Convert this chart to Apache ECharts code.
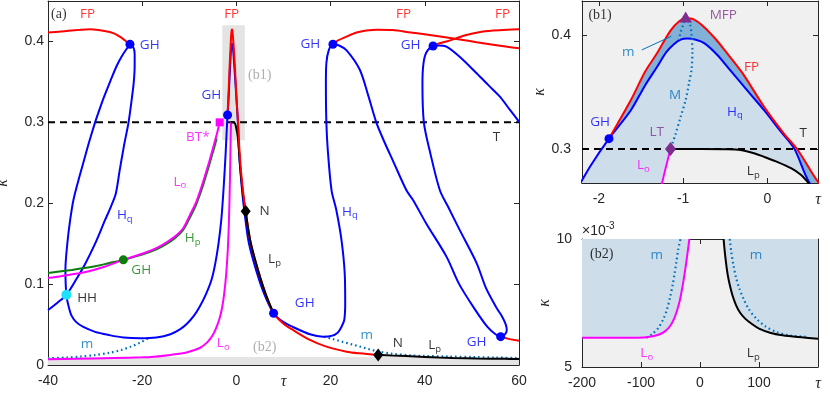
<!DOCTYPE html>
<html><head><meta charset="utf-8">
<script src="https://cdn.jsdelivr.net/npm/echarts@6/dist/echarts.min.js"></script>
<style>html,body{margin:0;padding:0;background:#fff;}#chart{width:830px;height:395px;}</style>
</head><body><div id="chart"></div>
<script>
// ================= DATA (tau, kappa) =================
const tKappa = 0.3;
// main panel (a)
const fpLeft = [[-40,0.411],[-36,0.413],[-33,0.4145],[-31,0.415],[-28,0.413],[-26,0.410],[-24.5,0.405],[-23.4,0.400],[-22.6,0.3965]];
const fpCenter = [[-1.88,0.309],[-1.62,0.343],[-1.45,0.368],[-1.31,0.384],[-1.15,0.404],[-1.05,0.412],[-0.97,0.4148],[-0.88,0.414],[-0.75,0.407],[-0.62,0.397],[-0.51,0.387],[-0.3,0.367],[-0.04,0.337],[0.2,0.313],[0.36,0.299],[0.61,0.27],[1.0,0.238],[1.5,0.21],[1.97,0.19],[3,0.152],[4.6,0.117],[6.2,0.088],[7.9,0.064],[10,0.051],[12,0.0433],[15.6,0.031],[19.1,0.0227],[23.4,0.0165],[26.2,0.0144],[30.1,0.0124]];
const fpRight1 = [[20.5,0.3965],[21.5,0.401],[23.4,0.406],[25.5,0.411],[27.6,0.4135],[30,0.4145],[33.2,0.414],[36.5,0.4115],[40.3,0.4085],[44,0.4055],[47.4,0.4025],[51,0.399],[54.5,0.396],[57.5,0.3935],[60,0.3915]];
const fpRight2 = [[41.75,0.3944],[43,0.3975],[44.6,0.400],[46.5,0.4035],[48.8,0.408],[51.5,0.4115],[54.5,0.4135],[57.5,0.4146],[60,0.415]];
const fpTail = [[56.1,0.035],[58,0.032],[60,0.030]];
const hqLoopB = [[-22.6,0.3965],[-21.9,0.393],[-21.6,0.385],[-21.6,0.37],[-21.8,0.349],[-22.3,0.325],[-22.9,0.300],[-23.9,0.27],[-24.8,0.24],[-25.6,0.212],[-26.7,0.195],[-27.9,0.179],[-30,0.150],[-32.2,0.124],[-34,0.106],[-36.1,0.0868],[-38,0.077],[-40,0.068]];
const hqLong = [[-22.6,0.3965],[-23.4,0.39],[-24.3,0.382],[-25.4,0.370],[-26.7,0.352],[-28,0.333],[-29,0.317],[-30,0.300],[-31.3,0.275],[-32.5,0.25],[-33.6,0.227],[-34.6,0.204],[-35.3,0.179],[-35.9,0.15],[-36.3,0.118],[-36.1,0.0868],[-35.6,0.072],[-35,0.061],[-34,0.053],[-32.5,0.047],[-30,0.041],[-27,0.037],[-24,0.034],[-20.4,0.033],[-17,0.034],[-14,0.038],[-12,0.044],[-10.5,0.051],[-9,0.061],[-7.8,0.072],[-6.5,0.087],[-5.3,0.105],[-4.5,0.125],[-3.8,0.15],[-3.2,0.18],[-2.7,0.22],[-2.3,0.26],[-2.1,0.285],[-1.88,0.309],[-1.62,0.334],[-1.45,0.356],[-1.31,0.372],[-1.2,0.385],[-1.11,0.392],[-1.03,0.396],[-0.95,0.397],[-0.85,0.396],[-0.75,0.393],[-0.6,0.383],[-0.44,0.369],[-0.2,0.348],[-0.04,0.334],[0.15,0.316],[0.32,0.30],[0.5,0.27],[0.85,0.24],[1.3,0.21],[1.7,0.19],[2.6,0.152],[4.2,0.117],[5.9,0.088],[7.9,0.064],[10,0.053],[12,0.047],[15.6,0.038],[18.4,0.035],[20.2,0.036],[21.5,0.040],[22.3,0.047],[22.9,0.0556],[23.1,0.076],[23,0.113],[22.3,0.155],[21.2,0.192],[20.2,0.216],[19.4,0.266],[19.1,0.300],[19.0,0.348],[19.1,0.373],[19.6,0.389],[20.5,0.3965],[21.8,0.395],[23.4,0.389],[26.2,0.365],[28,0.333],[29.7,0.300],[31.4,0.276],[33.2,0.253],[36.1,0.216],[37.5,0.204],[40.3,0.175],[44.6,0.134],[47.3,0.1],[50.5,0.07],[53.3,0.047],[55,0.038],[56.1,0.035],[56.9,0.037],[57.4,0.043],[57.2,0.05],[56.4,0.06],[55.3,0.07],[53,0.095],[51,0.126],[47.4,0.167],[45,0.195],[43.2,0.216],[41,0.266],[39.8,0.300],[39.5,0.348],[39.7,0.372],[40.3,0.386],[41.75,0.3944],[43,0.395],[44.6,0.3935],[47.4,0.381],[51,0.3606],[53.5,0.346],[55.9,0.332],[58,0.316],[60,0.301]];
const hp = [[-40,0.1136],[-35,0.1175],[-30,0.122],[-27,0.126],[-24,0.130],[-20,0.1365],[-17,0.143],[-15,0.149],[-13,0.157],[-11.3,0.167],[-9.9,0.182],[-8.5,0.199],[-7.2,0.220],[-6.2,0.239],[-5.3,0.257],[-4.6,0.271],[-4.2,0.28]];
const loUpper = [[-40,0.1075],[-36,0.111],[-32,0.115],[-28,0.1215],[-24,0.130],[-20,0.1375],[-17,0.1445],[-15,0.151],[-13,0.159],[-11.3,0.169],[-9.9,0.185],[-8.5,0.202],[-7.2,0.224],[-6.2,0.243],[-5.3,0.261],[-4.6,0.276],[-4.0,0.289],[-3.55,0.30]];
const loLower = [[-40,0.0071],[-34,0.0076],[-26,0.0087],[-20,0.0095],[-18,0.0100],[-14,0.0125],[-10.6,0.0155],[-7.8,0.021],[-6.2,0.028],[-5,0.037],[-4.2,0.047],[-3.55,0.058],[-3.0,0.072],[-2.6,0.088],[-2.2,0.11],[-1.85,0.14],[-1.6,0.175],[-1.42,0.216],[-1.32,0.245],[-1.25,0.27],[-1.15,0.30]];
const lpCenter = [[-1.15,0.30],[-0.8,0.3],[-0.5,0.2997],[-0.32,0.299],[-0.15,0.296],[-0.04,0.293],[0.1,0.289],[0.28,0.283],[0.4,0.277],[0.475,0.271],[0.55,0.265],[0.8,0.245],[1.2,0.222],[1.6,0.203],[1.97,0.19],[3,0.152],[4.6,0.117],[6.2,0.088],[7.9,0.064]];
const lpRight = [[30.1,0.0124],[33,0.0116],[36,0.0110],[40,0.0100],[43,0.0093],[46,0.0087],[51,0.0080],[57,0.0076],[60,0.0074]];
const mLeft = [[-40,0.0082],[-36,0.0093],[-33,0.0105],[-30,0.0123],[-27,0.015],[-24.5,0.0185],[-22.5,0.0225],[-20.5,0.0275],[-18.4,0.034]];
const mRight = [[18.6,0.035],[20.5,0.032],[22.6,0.0285],[24.5,0.0255],[26.2,0.0228],[28,0.0198],[30.1,0.0168],[33,0.0140],[36.8,0.0120],[40,0.0112],[45,0.0105],[50.3,0.0099],[55,0.0092],[60,0.0086]];
const ghPts = [[-22.6,0.3965],[-1.88,0.309],[20.5,0.3965],[41.75,0.3944],[7.9,0.064],[56.1,0.035]];
const ghGreen = [[-24,0.130]];
const hhPts = [[-36.1,0.0868]];
const nPts = [[1.97,0.19],[30.1,0.0124]];
const btPts = [[-3.55,0.300]];
const b1Window = [[-3.0,0.278],[1.8,0.42]];
const b2Band = [0, 0.01];
// tick labels
const xTicksA = [-40,-20,0,20,40,60], yTicksA = [0,0.1,0.2,0.3,0.4];
const xTicksB1 = [-2,-1,0], yTicksB1 = [0.3,0.4];
const xTicksB2 = [-200,-100,0,100], yTicksB2 = [5,10];
// panel (b1)
const mB1 = [[-0.97,0.416],[-1.0,0.409],[-1.03,0.403],[-1.05,0.396]];
const bigM = [[-0.97,0.416],[-0.92,0.41],[-0.9,0.40],[-0.89,0.387],[-0.9,0.37],[-0.93,0.358],[-0.97,0.343],[-1.03,0.328],[-1.09,0.313],[-1.15,0.30]];
const mfpPts = [[-0.97,0.416]];
const ltPts = [[-1.15,0.30]];
const ghB1 = [[-1.88,0.309]];
const mLeader = [[-1.49,0.387],[-1.14,0.399]];
// panel (b2)  (kappa in units of 1e-3)
const loB2 = [[-200,6.14],[-150,6.14],[-120,6.14],[-95,6.15],[-80,6.2],[-68,6.28],[-58,6.42],[-50,6.62],[-44,6.88],[-39,7.2],[-34,7.62],[-30,8.1],[-26,8.66],[-22,9.3],[-18,10]];
const mLeftB2 = [[-91,6.14],[-80,6.3],[-70,6.55],[-62,6.88],[-56,7.25],[-50,7.8],[-46,8.25],[-43,8.66],[-40,9.1],[-37,9.58],[-33,10]];
const lpB2 = [[40,10],[42,9.5],[44.5,9.0],[47,8.6],[50.5,8.2],[55,7.8],[61,7.42],[68,7.12],[77,6.88],[88,6.68],[100,6.5],[120,6.33],[140,6.24],[166,6.17],[200,6.1]];
const mRightB2 = [[50.3,10],[53,9.5],[56.5,9.0],[61,8.5],[67,8.05],[74,7.65],[83,7.25],[95,6.9],[110,6.6],[130,6.36],[155,6.22],[183,6.18]];

// ================= STYLE =================
const RED='#ff0000', BLUE='#0000ff', MAG='#ff00ff', GREEN='#0b7d0b', MBLUE='#0072bd', PURPLE='#7e2f8e', BLACK='#000000', CYAN='#1ee0ff', GREYT='#9a9a9a';
const AX='#262626';
const SANS='Open Sans';
const richT = {t:{fontFamily:'Liberation Serif', fontStyle:'italic', fontSize:16, color:AX}};

function xAx(grid,min,max,pos,labelVals,tickVals,fmt){
  return {type:'value',gridIndex:grid,min,max,position:pos,
    axisLine:{show:true,onZero:false,lineStyle:{color:AX,width:1}},
    axisTick:{show:true,inside:true,length:5,customValues:tickVals,lineStyle:{color:AX}},
    axisLabel:labelVals?{show:true,customValues:labelVals,formatter:fmt,color:AX,fontFamily:'Liberation Sans',fontSize:14,margin:9,rich:richT,
      alignMinLabel:'center',alignMaxLabel:'center',showMinLabel:true,showMaxLabel:true,hideOverlap:false}:{show:false},
    splitLine:{show:false}};
}
function yAx(grid,min,max,pos,labelVals,tickVals,fmt,margin,gap){
  const o={type:'value',gridIndex:grid,min,max,position:pos,
    axisLine:{show:true,onZero:false,lineStyle:{color:AX,width:1}},
    axisTick:{show:true,inside:true,length:5,customValues:tickVals,lineStyle:{color:AX}},
    axisLabel:labelVals?{show:true,customValues:labelVals,formatter:fmt,color:AX,fontFamily:'Liberation Sans',fontSize:14,margin:margin,
      verticalAlignMinLabel:'middle',verticalAlignMaxLabel:'middle',showMinLabel:true,showMaxLabel:true,hideOverlap:false}:{show:false},
    splitLine:{show:false}};
  if(labelVals){o.name='κ';o.nameLocation='middle';o.nameGap=gap;o.nameTextStyle={fontFamily:'Liberation Serif',fontStyle:'italic',fontSize:16,color:AX};}
  return o;
}
const tauFmt = (tv)=> (v)=> Math.abs(v-tv)<1e-9 ? '{t|τ}' : String(v);

function line(data,color,p,o={}){
  return {type:'line',data,xAxisIndex:p*2,yAxisIndex:p*2,symbol:'none',showSymbol:false,smooth:o.smooth===undefined?0.3:o.smooth,clip:true,silent:true,
    lineStyle:{color,width:o.w||2,type:o.dash||'solid',cap:o.cap||'butt'},z:o.z||3};
}
function pts(data,color,p,symbol,size,z){
  return {type:'scatter',data,xAxisIndex:p*2,yAxisIndex:p*2,symbol,symbolSize:size,silent:true,itemStyle:{color,opacity:1},z:z||10};
}
function poly(points,color,p,z){
  return {type:'custom',xAxisIndex:p*2,yAxisIndex:p*2,silent:true,z:z||1,data:[[points[0][0],points[0][1]]],
    renderItem:(params,api)=>{const cs=params.coordSys;
      return {type:'polygon',shape:{points:points.map(q=>api.coord(q))},style:{fill:color},
        clipPath:{type:'rect',shape:{x:cs.x,y:cs.y,width:cs.width,height:cs.height}}};}};
}
function fmtTxt(s){const m=s.match(/^(.*)_(.*)$/);return m?`{n|${m[1]}}{s|${m[2]}}`:`{n|${s}}`;}
function notes(list,p){
  return {type:'scatter',xAxisIndex:p*2,yAxisIndex:p*2,symbolSize:0.1,silent:true,z:20,itemStyle:{color:'transparent'},
    data:list.map(([x,y,t,c,serif])=>({value:[x,y],label:{show:true,position:'inside',align:'center',verticalAlign:'middle',
      formatter:serif?`{r|${t}}`:fmtTxt(t),
      rich:{n:{fontFamily:SANS,fontSize:13.5,color:c,lineHeight:18,verticalAlign:'middle'},
            s:{fontFamily:SANS,fontSize:9.5,color:c,lineHeight:8,verticalAlign:'bottom'},
            r:{fontFamily:'Liberation Serif',fontSize:14,color:c,lineHeight:18}}}}))};
}

// ================= annotations =================
const notesA = [[-37.7,0.434,'(a)','#000',1],[-31.6,0.434,'FP',RED],[-1.0,0.434,'FP',RED],[35.5,0.434,'FP',RED],[56.5,0.434,'FP',RED],
 [-18.4,0.3956,'GH',BLUE],[-5.3,0.334,'GH',BLUE],[15.7,0.3965,'GH',BLUE],[37.0,0.3956,'GH',BLUE],[14.5,0.0763,'GH',BLUE],[51,0.0288,'GH',BLUE],
 [-20.2,0.1174,'GH',GREEN],[-31.7,0.0825,'HH','#000'],[-23.7,0.1854,'H_q',BLUE],[24.1,0.1895,'H_q',BLUE],[-9.3,0.1566,'H_p',GREEN],
 [-12,0.2266,'L_o',MAG],[-2.8,0.0268,'L_o',MAG],[-8.2,0.2822,'BT*',MAG],[4.95,0.3585,'(b1)',GREYT,1],[6,0.0219,'(b2)',GREYT,1],
 [6,0.1907,'N','#000'],[34.3,0.0268,'N','#000'],[8.1,0.1307,'L_p','#000'],[42.1,0.0247,'L_p','#000'],
 [-31.7,0.026,'m',MBLUE],[27.7,0.0371,'m',MBLUE],[55.2,0.2822,'T','#000']];
const notesB1 = [[-1.986,0.4177,'(b1)','#000',1],[-0.524,0.4177,'MFP',PURPLE],[-1.651,0.3854,'m',MBLUE],[-0.187,0.3722,'FP',RED],[-1.097,0.3474,'M',MBLUE],
 [-0.385,0.3327,'H_q',BLUE],[0.425,0.3137,'T','#000'],[-1.986,0.3239,'GH',BLUE],[-1.314,0.3151,'LT',PURPLE],[-1.473,0.2858,'L_o',MAG],[-0.168,0.28,'L_p','#000']];
const notesB2 = [[-166.6,9.414,'(b2)','#000',1],[-73.4,9.375,'m',MBLUE],[94.9,9.375,'m',MBLUE],[-90.3,5.535,'L_o',MAG],[90.3,5.535,'L_p','#000']];

// ================= derived shapes =================
const rectPts = (a)=>[[a[0][0],a[0][1]],[a[1][0],a[0][1]],[a[1][0],a[1][1]],[a[0][0],a[1][1]]];
const lpUpper = lpCenter.filter(p=>p[1]>=0.19), lpLower = lpCenter.filter(p=>p[1]<=0.19);
const hqTent = hqLong.filter(p=>p[0]>=-2.75&&p[0]<=0.9&&p[1]>=0.2);
const lightPoly = hqTent.concat(lpCenter.filter(p=>p[0]<=0.9&&p[1]>=0.2).reverse().slice(0,-1), loLower.filter(p=>p[1]>=0.2).reverse());
const darkPoly = fpCenter.filter(p=>p[0]<=1.1&&p[1]>=0.2).concat(hqLong.filter(p=>p[0]>=-1.9&&p[0]<=0.9&&p[1]>=0.2).reverse());
const b2LeftPoly = [[-200,10]].concat(loB2.slice().reverse());
const b2RightPoly = lpB2.concat([[200,10]]);
const LIGHT='#cddde9', DARK='#82b1d8';

const series = [
  // main panel
  poly(rectPts(b1Window),'#e4e4e4',0,1),
  poly([[-40,b2Band[0]],[60,b2Band[0]],[60,b2Band[1]],[-40,b2Band[1]]],'#e4e4e4',0,1),
  line([[-40,tKappa],[60,tKappa]],BLACK,0,{dash:[7,5],smooth:false,z:2}),
  line(mLeft,MBLUE,0,{dash:[1.6,3],w:2.2,z:3}),
  line(mRight,MBLUE,0,{dash:[1.6,3],w:2.2,z:3}),
  line(hqLoopB,BLUE,0,{z:4}),
  line(hqLong,BLUE,0,{z:4}),
  line(hp,GREEN,0,{z:5}),
  line(loUpper,MAG,0,{z:6}),
  line(loLower,MAG,0,{z:6}),
  line(lpUpper,BLACK,0,{z:6}),
  line(fpLeft,RED,0,{z:7}),
  line(fpCenter,RED,0,{z:7}),
  line(fpRight1,RED,0,{z:7}),
  line(fpRight2,RED,0,{z:7}),
  line(fpTail,RED,0,{z:7,smooth:false}),
  line(lpLower,BLACK,0,{z:8}),
  line(lpRight,BLACK,0,{z:8}),
  pts(ghPts,BLUE,0,'circle',9),
  pts(ghGreen,GREEN,0,'circle',9),
  pts(hhPts,CYAN,0,'circle',10),
  pts(nPts,BLACK,0,'diamond',[10,13]),
  pts(btPts,MAG,0,'rect',8),
  notes(notesA,0),
  // b1
  poly(lightPoly,LIGHT,1,1),
  poly(darkPoly,DARK,1,1),
  line([[-2.2,tKappa],[0.6,tKappa]],BLACK,1,{dash:[7,5],smooth:false,z:2}),
  line(hqLong,BLUE,1,{z:4}),
  line(mB1,MBLUE,1,{dash:[1.6,3],w:2.2,z:5,smooth:false}),
  line(bigM,MBLUE,1,{dash:[1.6,3],w:2.2,z:5}),
  line(loLower,MAG,1,{z:6}),
  line(lpCenter,BLACK,1,{z:6}),
  line(fpCenter,RED,1,{z:7}),
  line(mLeader,MBLUE,1,{w:1,smooth:false,z:8}),
  pts(ghB1,BLUE,1,'circle',9),
  pts(ltPts,PURPLE,1,'diamond',[11,14]),
  pts(mfpPts,PURPLE,1,'triangle',[13,11]),
  notes(notesB1,1),
  // b2
  poly(b2LeftPoly,LIGHT,2,1),
  poly(b2RightPoly,LIGHT,2,1),
  line(mLeftB2,MBLUE,2,{dash:[1.6,3],w:2.2,z:4}),
  line(mRightB2,MBLUE,2,{dash:[1.6,3],w:2.2,z:4}),
  line(loB2,MAG,2,{z:5}),
  line(lpB2,BLACK,2,{z:5}),
  notes(notesB2,2)
];

const inner = (a)=>a.slice(1,-1);
const gridBase = {containLabel:false, outerBoundsMode:'none'};
const option = {
  animation:false,
  backgroundColor:'#ffffff',
  grid:[
    Object.assign({left:48,top:1,width:471,height:364,show:false},gridBase),
    Object.assign({left:582,top:1,width:236,height:182,show:true,backgroundColor:'#f0f0f0',borderWidth:0},gridBase),
    Object.assign({left:582,top:239,width:236,height:128,show:true,backgroundColor:'#f0f0f0',borderWidth:0},gridBase)
  ],
  xAxis:[
    xAx(0,-40,60,'bottom',xTicksA.concat([10]),inner(xTicksA),tauFmt(10)),
    xAx(0,-40,60,'top',null,inner(xTicksA)),
    xAx(1,-2.2,0.6,'bottom',xTicksB1.concat([0.6]),xTicksB1,tauFmt(0.6)),
    xAx(1,-2.2,0.6,'top',null,xTicksB1),
    xAx(2,-200,200,'bottom',xTicksB2.concat([200]),inner(xTicksB2.concat([200])),tauFmt(200)),
    xAx(2,-200,200,'top',null,inner(xTicksB2.concat([200])))
  ],
  yAxis:[
    yAx(0,0,0.45,'left',yTicksA,yTicksA.slice(1),v=>v===0?'0':v.toFixed(1),4,37),
    yAx(0,0,0.45,'right',null,yTicksA.slice(1)),
    yAx(1,0.27,0.43,'left',yTicksB1,yTicksB1,v=>v.toFixed(1),11,14),
    yAx(1,0.27,0.43,'right',null,yTicksB1),
    yAx(2,5,10,'left',yTicksB2,yTicksB2,v=>String(v),10,12),
    yAx(2,5,10,'right',null,yTicksB2)
  ],
  graphic:[{type:'text',left:582,top:221,style:{text:'{a|×10}{b|-3}',rich:{a:{fontFamily:'Liberation Sans',fontSize:14,fill:AX},b:{fontFamily:'Liberation Sans',fontSize:10,fill:AX,verticalAlign:'top',lineHeight:20}}}}],
  series
};
const chart = echarts.init(document.getElementById('chart'),null,{renderer:'canvas'});
chart.setOption(option);
</script></body></html>
